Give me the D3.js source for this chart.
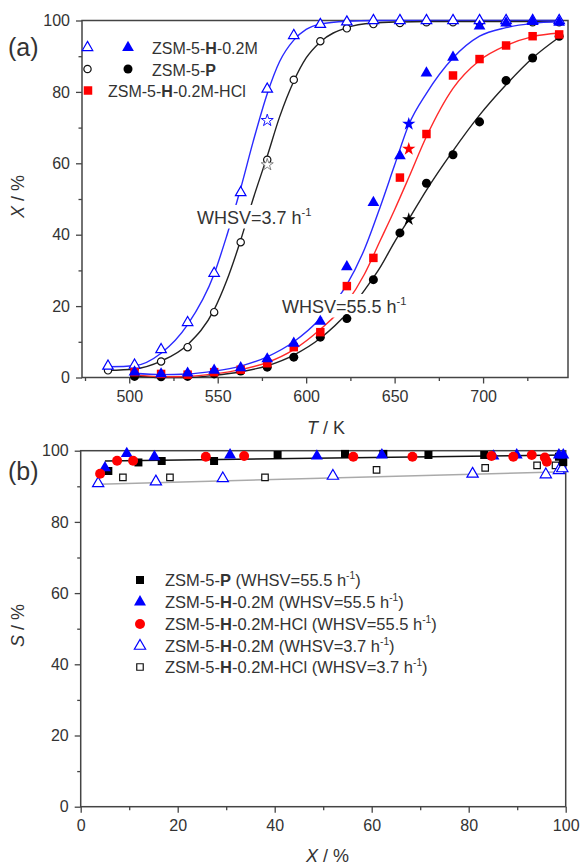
<!DOCTYPE html>
<html>
<head>
<meta charset="utf-8">
<script src="https://cdn.jsdelivr.net/npm/d3@7"></script>
<style>
  body { margin: 0; background: #fff; }
  text { font-family: Arial, "Liberation Sans", sans-serif; fill: #333; }
</style>
</head>
<body>
<script>
// ---------- panel (a) data: conversion X (%) vs temperature T (K) ----------
var tempSlow = [488, 503, 518, 533, 548, 563, 578, 593, 608, 623, 638, 653, 668, 683, 698, 713, 728, 743];
var convH_37 = [3.2, 3.5, 7.8, 15.4, 29.2, 51.8, 80.8, 95.8, 98.9, 99.6, 100, 100, 100, 100, 100, 100, 100, 100];
var convP_37 = [2, 2.5, 4.5, 8.5, 18.3, 37.9, 61, 83.4, 94.2, 97.8, 99, 99.3, 99.5, 99.5, 99.5, 99.5, 99.5, 99.5];

var tempFast = [503, 518, 533, 548, 563, 578, 593, 608, 623, 638, 653, 668, 683, 698, 713, 728, 743];
var convH_555 = [1.5, 1.0, 1.2, 2, 2.7, 5.2, 9.6, 15.7, 31, 49, 62.1, 85.3, 89.7, 98.4, 99.3, 99.7, 99.5];
var convHCl_555 = [1.5, 1.0, 0.8, 1.5, 2.2, 4, 8.5, 12.7, 25.6, 33.5, 56, 68.2, 84.6, 89.2, 93, 95.6, 96.1];
var convP_555 = [0.3, 0.2, 0.3, 1, 1.8, 2.9, 5.7, 11.3, 16.5, 27.4, 40.5, 54.4, 62.4, 71.6, 83.2, 89.5, 95.6];

// fitted curves
var fitTSlow = [488, 503, 518, 533, 548, 555, 563, 570, 578, 585, 593, 600, 608, 623, 638, 653, 668, 683, 698, 713, 728, 743];
var fitH_37 = [3.0, 3.3, 6.8, 14.8, 29, 39.5, 53, 66, 79.5, 88.5, 94.5, 97.5, 99, 99.8, 100, 100, 100, 100, 100, 100, 100, 100];
var fitP_37 = [2, 2.4, 4.6, 9.2, 19, 27, 38.5, 50, 62, 73, 83, 89.5, 94, 98, 99.3, 99.6, 99.7, 99.7, 99.7, 99.7, 99.7, 99.7];
var fitTFast = [503, 518, 533, 548, 563, 578, 593, 608, 623, 633, 642, 650, 658, 668, 683, 698, 713, 728, 743];
var fitH_555 = [1.2, 0.8, 1, 1.8, 3.2, 5.8, 10, 16.5, 26, 36, 48, 59.5, 70.8, 79.6, 89.5, 95.6, 98, 99.2, 99.7];
var fitHCl_555 = [0.8, 0.2, 0.3, 1, 2.2, 4.2, 7.8, 13.5, 21, 29, 38.5, 47, 56, 67.5, 81, 88.8, 93, 95.5, 96.5];
var fitP_555 = [0.5, 0, 0, 0.6, 1.6, 3.3, 6.3, 11, 18, 24.5, 31, 38, 44.3, 52.5, 63.5, 73.5, 82, 89.5, 95.3];

// star points
var starOpenT = [578, 578];
var starOpenX = [72, 59.6];
var starOpenColor = ["#0000ff", "#777"];
var starFillT = [658, 658, 658];
var starFillX = [71, 64, 44.3];
var starFillColor = ["#0000ff", "#ff0000", "#000"];

var tickT = [500, 550, 600, 650, 700];
var tickTMinor = [475, 525, 575, 625, 675, 725];

// ---------- panel (b) data: selectivity S (%) vs conversion X (%) ----------
var selP_X = [5.7, 11.9, 16.7, 27.5, 40.6, 54.5, 62.4, 71.7, 83.2, 98.6, 99.5];
var selP_S = [94.3, 96.7, 97.1, 97.1, 98.8, 99.1, 99.1, 98.8, 98.8, 98.3, 96.8];
var selH_X = [5.0, 9.5, 15.2, 30.8, 48.7, 62.1, 85.1, 89.9, 98.6, 99.5];
var selH_S = [95.2, 99.2, 98.3, 98.8, 98.5, 98.8, 98.5, 98.8, 98.8, 98.8];
var selHCl_X = [4.0, 7.5, 10.8, 25.8, 33.7, 56.2, 68.4, 84.7, 89.2, 93.0, 95.7, 96.1];
var selHCl_S = [93.5, 97.2, 97.2, 98.3, 98.5, 98.3, 98.3, 98.5, 98.3, 98.8, 98.1, 96.9];
var selH37_X = [3.6, 15.5, 29.3, 52.0, 80.8, 95.9, 98.6, 99.3];
var selH37_S = [90.8, 91.3, 92.2, 92.9, 93.5, 93.3, 94.5, 95];
var selHCl37_X = [8.7, 18.4, 38.0, 61.0, 83.4, 94.1, 97.9, 99.4];
var selHCl37_S = [92.5, 92.5, 92.5, 94.6, 95.2, 95.9, 95.9, 96.7];
var lineFast_X = [5, 100];
var lineFast_S = [97.1, 98.8];
var lineSlow_X = [3.8, 100];
var lineSlow_S = [90.6, 94.1];

var tickPct = [0, 20, 40, 60, 80, 100];
var tickPctMinor = [10, 30, 50, 70, 90];

var svg = d3.select("body").append("svg")
    .attr("width", 582)
    .attr("height", 865);

// text made of pieces: ["txt", ""], ["H", "b"], ["-1", "s"], ["X", "i"]
function richText(g, x, y, parts, size) {
  var t = g.append("text").attr("x", x).attr("y", y).style("font-size", size + "px");
  var shift = 0;
  parts.forEach(function(p) {
    var s = t.append("tspan").text(p[0]);
    if (p[1] == "b") s.style("font-weight", "bold");
    if (p[1] == "i") s.style("font-style", "italic");
    if (p[1] == "s") {
      s.style("font-size", (size * 0.62) + "px").attr("dy", -size * 0.42);
      shift = size * 0.42;
    } else if (shift) {
      s.attr("dy", shift);
      shift = 0;
    }
  });
  return t;
}

function marker(g, xs, ys, x, y, type, size, fill, stroke, sw) {
  g.selectAll(null)
    .data(xs.map(function(d, i) { return [d, ys[i]]; }))
    .enter().append("path")
      .attr("d", d3.symbol().type(type).size(size))
      .attr("transform", function(d) { return "translate(" + x(d[0]) + "," + y(d[1]) + ")"; })
      .attr("fill", fill)
      .attr("stroke", stroke)
      .attr("stroke-width", sw || 0);
}

function curve(g, xs, ys, x, y, color, width, interp) {
  g.append("path")
    .datum(xs.map(function(d, i) { return [d, ys[i]]; }))
    .attr("fill", "none")
    .attr("stroke", color)
    .attr("stroke-width", width)
    .attr("d", d3.line()
      .x(function(d) { return x(d[0]); })
      .y(function(d) { return y(d[1]); })
      .curve(interp || d3.curveLinear));
}

function axes(g, x, y, w, h, xt, xtm, yt, ytm) {
  var ax = g.append("g").attr("transform", "translate(0," + h + ")")
    .call(d3.axisBottom(x).tickValues(xt).tickSize(6).tickSizeOuter(0).tickPadding(7).tickFormat(d3.format("d")));
  var axm = g.append("g").attr("transform", "translate(0," + h + ")")
    .call(d3.axisBottom(x).tickValues(xtm).tickSize(3.5).tickSizeOuter(0).tickFormat(""));
  var ay = g.append("g")
    .call(d3.axisLeft(y).tickValues(yt).tickSize(6).tickSizeOuter(0).tickPadding(6));
  var aym = g.append("g")
    .call(d3.axisLeft(y).tickValues(ytm).tickSize(3.5).tickSizeOuter(0).tickFormat(""));
  [ax, axm, ay, aym].forEach(function(a) {
    a.select(".domain").remove();
    a.selectAll("line").attr("stroke", "#444").attr("stroke-width", 1.3);
    a.selectAll("text").style("font-size", "16px").attr("fill", "#333")
      .style("font-family", "Arial, 'Liberation Sans', sans-serif");
  });
  g.append("rect")
    .attr("width", w).attr("height", h)
    .attr("fill", "none").attr("stroke", "#444").attr("stroke-width", 1.5);
}

// ================= panel (a) =================
var wA = 486, hA = 357;
var gA = svg.append("g").attr("transform", "translate(82,20.5)");
var xA = d3.scaleLinear().domain([473.3, 748]).range([0, wA]);
var yA = d3.scaleLinear().domain([0, 100]).range([hA, 0]);

axes(gA, xA, yA, wA, hA, tickT, tickTMinor, tickPct, tickPctMinor);

// fitted curves
curve(gA, fitTSlow, fitH_37, xA, yA, "#2a2aff", 1.4, d3.curveMonotoneX);
curve(gA, fitTSlow, fitP_37, xA, yA, "#222", 1.4, d3.curveMonotoneX);
curve(gA, fitTFast, fitP_555, xA, yA, "#222", 1.4, d3.curveMonotoneX);
curve(gA, fitTFast, fitHCl_555, xA, yA, "#ff2a2a", 1.4, d3.curveMonotoneX);
curve(gA, fitTFast, fitH_555, xA, yA, "#2a2aff", 1.4, d3.curveMonotoneX);

// labels with white box
function boxLabel(g, x, y, parts) {
  var t = richText(g, x, y, parts, 18);
  var b = t.node().getBBox();
  g.insert("rect", function() { return t.node(); })
    .attr("x", b.x - 2).attr("y", b.y - 1)
    .attr("width", b.width + 4).attr("height", b.height + 2)
    .attr("fill", "#fff");
}
boxLabel(gA, 115, 203, [["WHSV=3.7 h", ""], ["-1", "s"]]);
boxLabel(gA, 200, 292, [["WHSV=55.5 h", ""], ["-1", "s"]]);

// points
marker(gA, tempSlow, convP_37, xA, yA, d3.symbolCircle, 42, "#fff", "#111", 1.2);
marker(gA, tempSlow, convH_37, xA, yA, d3.symbolTriangle, 48, "#fff", "#0000ff", 1.2);
marker(gA, tempFast, convP_555, xA, yA, d3.symbolCircle, 64, "#000", "none");
marker(gA, tempFast, convHCl_555, xA, yA, d3.symbolSquare, 72, "#ff0000", "none");
marker(gA, tempFast, convH_555, xA, yA, d3.symbolTriangle, 60, "#0000ff", "none");

starOpenT.forEach(function(t, i) {
  marker(gA, [t], [starOpenX[i]], xA, yA, d3.symbolStar, 45, "#fff", starOpenColor[i], 0.9);
});
starFillT.forEach(function(t, i) {
  marker(gA, [t], [starFillX[i]], xA, yA, d3.symbolStar, 55, starFillColor[i], "none");
});

// legend (a)
var legA = svg.append("g");
var lx = d3.scaleLinear().domain([0, 1]).range([0, 1]);
marker(legA, [87.5], [47.5], lx, lx, d3.symbolTriangle, 48, "#fff", "#0000ff", 1.2);
marker(legA, [128], [47.5], lx, lx, d3.symbolTriangle, 60, "#0000ff", "none");
marker(legA, [87.5], [69], lx, lx, d3.symbolCircle, 42, "#fff", "#111", 1.2);
marker(legA, [128], [69], lx, lx, d3.symbolCircle, 64, "#000", "none");
marker(legA, [88], [90.5], lx, lx, d3.symbolSquare, 72, "#ff0000", "none");
richText(legA, 152, 54, [["ZSM-5-", ""], ["H", "b"], ["-0.2M", ""]], 16);
richText(legA, 152, 75.5, [["ZSM-5-", ""], ["P", "b"]], 16);
richText(legA, 108, 97, [["ZSM-5-", ""], ["H", "b"], ["-0.2M-HCl", ""]], 16);

svg.append("text").attr("x", 8).attr("y", 56).style("font-size", "25px").text("(a)");
richText(svg, 307, 434, [["T", "i"], [" / K", ""]], 18);
richText(svg, 0, 0, [["X", "i"], [" / %", ""]], 18)
  .attr("transform", "translate(24,218) rotate(-90)");

// ================= panel (b) =================
var wB = 485, hB = 356;
var gB = svg.append("g").attr("transform", "translate(80.7,450.7)");
var xB = d3.scaleLinear().domain([0, 100]).range([0, wB]);
var yB = d3.scaleLinear().domain([0, 100]).range([hB, 0]);

axes(gB, xB, yB, wB, hB, tickPct, tickPctMinor, tickPct, tickPctMinor);

curve(gB, lineSlow_X, lineSlow_S, xB, yB, "#aaa", 1.5);
curve(gB, lineFast_X, lineFast_S, xB, yB, "#111", 1.5);

marker(gB, selHCl37_X, selHCl37_S, xB, yB, d3.symbolSquare, 42, "#fff", "#111", 1.2);
marker(gB, selH37_X, selH37_S, xB, yB, d3.symbolTriangle, 55, "#fff", "#0000ff", 1.2);
marker(gB, selP_X, selP_S, xB, yB, d3.symbolSquare, 64, "#000", "none");
marker(gB, selH_X, selH_S, xB, yB, d3.symbolTriangle, 62, "#0000ff", "none");
marker(gB, selHCl_X, selHCl_S, xB, yB, d3.symbolCircle, 78, "#ff0000", "none");

// legend (b)
var legB = svg.append("g");
var rowsY = [580, 602, 624, 646, 667];
marker(legB, [140], [rowsY[0]], lx, lx, d3.symbolSquare, 64, "#000", "none");
marker(legB, [140], [rowsY[1]], lx, lx, d3.symbolTriangle, 62, "#0000ff", "none");
marker(legB, [140], [rowsY[2]], lx, lx, d3.symbolCircle, 78, "#ff0000", "none");
marker(legB, [140], [rowsY[3]], lx, lx, d3.symbolTriangle, 55, "#fff", "#0000ff", 1.2);
marker(legB, [140], [rowsY[4]], lx, lx, d3.symbolSquare, 42, "#fff", "#111", 1.2);
var legTexts = [
  [["ZSM-5-", ""], ["P", "b"], [" (WHSV=55.5 h", ""], ["-1", "s"], [")", ""]],
  [["ZSM-5-", ""], ["H", "b"], ["-0.2M (WHSV=55.5 h", ""], ["-1", "s"], [")", ""]],
  [["ZSM-5-", ""], ["H", "b"], ["-0.2M-HCl (WHSV=55.5 h", ""], ["-1", "s"], [")", ""]],
  [["ZSM-5-", ""], ["H", "b"], ["-0.2M (WHSV=3.7 h", ""], ["-1", "s"], [")", ""]],
  [["ZSM-5-", ""], ["H", "b"], ["-0.2M-HCl (WHSV=3.7 h", ""], ["-1", "s"], [")", ""]]
];
legTexts.forEach(function(p, i) {
  richText(legB, 165, rowsY[i] + 6, p, 16.5);
});

svg.append("text").attr("x", 8).attr("y", 480).style("font-size", "25px").text("(b)");
richText(svg, 306, 862, [["X", "i"], [" / %", ""]], 18);
richText(svg, 0, 0, [["S", "i"], [" / %", ""]], 18)
  .attr("transform", "translate(24,647) rotate(-90)");
</script>
</body>
</html>
